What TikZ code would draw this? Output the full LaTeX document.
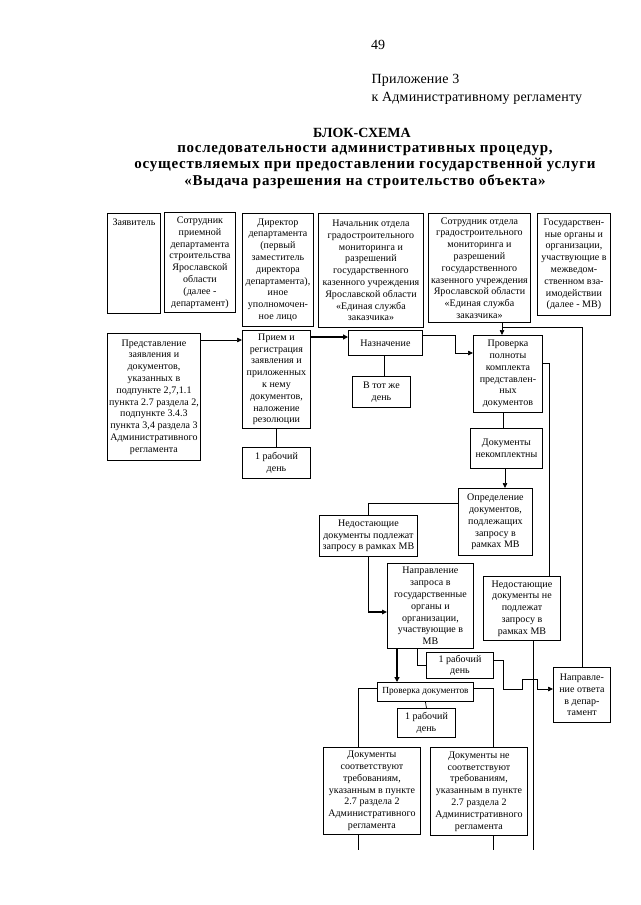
\documentclass[tikz,border=0pt]{standalone}
\usepackage{fontspec}
\setmainfont{Liberation Serif}
\usetikzlibrary{arrows.meta}

\tikzset{
  blk/.style={draw, line width=0.9pt, align=center, anchor=north west, inner xsep=0.5pt, inner ysep=1.5pt,
    font=\fontsize{10}{11.8}\selectfont\addfontfeatures{LetterSpace=0.5}},
  con/.style={line width=0.7pt},
  arr/.style={con, -{Triangle[length=5pt,width=4.5pt]}},
  tarr/.style={line width=1.8pt, -{Triangle[length=5pt,width=5pt]}},
}

\begin{document}
\begin{tikzpicture}[x=1pt,y=-1pt]
\useasboundingbox (0,0) rectangle (640,905);

% page header and title
\node[font=\fontsize{14}{16}\selectfont] (pg) at (378,45) {49};
\node[anchor=west, align=left, font=\fontsize{14}{18}\selectfont\addfontfeatures{LetterSpace=1.5}] (pril) at (368,89)
  {Приложение 3\\к Административному регламенту};
\node[font=\bfseries\fontsize{14}{16.7}\selectfont] (title) at (362,133) {БЛОК-СХЕМА};
\node[align=center, font=\bfseries\fontsize{15}{16.7}\selectfont\addfontfeatures{LetterSpace=5}] (subtitle) at (365,167)
  {последовательности административных процедур,\\осуществляемых при предоставлении государственной услуги\\«Выдача разрешения на строительство объекта»};

% participants
\node[blk, minimum width=53, minimum height=100, text height=10pt, text depth=85pt] (zay) at (107,213) {Заявитель};
\node[blk, minimum width=71, minimum height=100] (sotr) at (164,212)
  {Сотрудник\\приемной\\департамента\\строительства\\Ярославской\\области\\(далее -\\департамент)};
\node[blk, minimum width=71, minimum height=113] (dir) at (242,213)
  {Директор\\департамента\\(первый\\заместитель\\директора\\департамента),\\иное\\уполномочен-\\ное лицо};
\node[blk, minimum width=105, minimum height=114] (nach) at (318,213)
  {Начальник отдела\\градостроительного\\мониторинга и\\разрешений\\государственного\\казенного учреждения\\Ярославской области\\«Единая служба\\заказчика»};
\node[blk, minimum width=102, minimum height=109] (sotrO) at (428,213)
  {Сотрудник отдела\\градостроительного\\мониторинга и\\разрешений\\государственного\\казенного учреждения\\Ярославской области\\«Единая служба\\заказчика»};
\node[blk, minimum width=73, minimum height=102] (gos) at (537,213)
  {Государствен-\\ные органы и\\организации,\\участвующие в\\межведом-\\ственном вза-\\имодействии\\(далее - МВ)};

% procedures
\node[blk, minimum width=93, minimum height=127] (pred) at (107,333)
  {Представление\\заявления и\\документов,\\указанных в\\подпункте 2,7,1.1\\пункта 2.7 раздела 2,\\подпункте 3.4.3\\пункта 3,4 раздела 3\\Административного\\регламента};
\node[blk, minimum width=68, minimum height=98] (priem) at (242,330)
  {Прием и\\регистрация\\заявления и\\приложенных\\к нему\\документов,\\наложение\\резолюции};
\node[blk, minimum width=68, minimum height=31] (den1) at (242,447) {1 рабочий\\день};
\node[blk, minimum width=74, minimum height=25] (nazn) at (348,330) {Назначение};
\node[blk, minimum width=58, minimum height=31] (totzhe) at (352,376) {В тот же\\день};
\node[blk, minimum width=69, minimum height=77] (prov) at (473,335)
  {Проверка\\полноты\\комплекта\\представлен-\\ных\\документов};
\node[blk, minimum width=72, minimum height=40] (nekompl) at (470,428) {Документы\\некомплектны};
\node[blk, minimum width=74, minimum height=67] (opred) at (458,488)
  {Определение\\документов,\\подлежащих\\запросу в\\рамках МВ};
\node[blk, minimum width=98, minimum height=41] (nedP) at (319,515)
  {Недостающие\\документы подлежат\\запросу в рамках МВ};
\node[blk, minimum width=86, minimum height=85] (napr) at (387,563)
  {Направление\\запроса в\\государственные\\органы и\\организации,\\участвующие в\\МВ};
\node[blk, minimum width=77, minimum height=64] (nedNP) at (483,576)
  {Недостающие\\документы не\\подлежат\\запросу в\\рамках МВ};
\node[blk, minimum width=67, minimum height=26] (den2) at (426,652) {1 рабочий\\день};
\node[blk, minimum width=57, minimum height=55] (otvet) at (553,667)
  {Направле-\\ние ответа\\в депар-\\тамент};
\node[blk, minimum width=96, minimum height=19, font=\fontsize{9.3}{11}\selectfont] (provD) at (377,682) {Проверка документов};
\node[blk, minimum width=58, minimum height=29] (den3) at (397,708) {1 рабочий\\день};
\node[blk, minimum width=97, minimum height=87] (sootv) at (323,747)
  {Документы\\соответствуют\\требованиям,\\указанным в пункте\\2.7 раздела 2\\Административного\\регламента};
\node[blk, minimum width=97, minimum height=88] (nesootv) at (430,747)
  {Документы не\\соответствуют\\требованиям,\\указанным в пункте\\2.7 раздела 2\\Административного\\регламента};

% connectors
\coordinate (jt) at (502,327);
\coordinate (e1) at (358,850);
\coordinate (e2) at (493,850);
\coordinate (e3) at (533,850);

\draw[arr] (pred.east |- 0,340) -- (priem.west |- 0,340);
\draw[tarr] (priem.east |- 0,337) -- (nazn.west |- 0,337);
\draw[con] (priem.south) -- (den1.north);
\draw[con] (nazn.south -| 384,0) -- (totzhe.north -| 384,0);
\draw[arr] (nazn.east |- 0,335) -- (455,335) |- (prov.west |- 0,353);
\draw[arr] (sotrO.south -| jt) -- (prov.north -| jt);
\draw[con] (jt) -| (otvet.north);
\draw[con] (prov.east |- 0,363) -| (nedNP.north -| 549,0);
\draw[con] (prov.south -| 503,0) -- (nekompl.north -| 503,0);
\draw[arr] (nekompl.south -| 505,0) -- (opred.north -| 505,0);
\draw[con] (opred.west |- 0,503) -| (nedP.north);
\draw[arr, line width=1.1pt] (nedP.south) |- (napr.west |- 0,612);
\draw[tarr] (napr.south -| 397,0) -- (provD.north -| 397,0);
\draw[con] (napr.south -| 417,0) |- (den2.west);
\draw[arr] (den2.east |- 0,660) -- (503,660) -- (503,689) -- (522,689) -- (522,679)
  -- (537,679) -- (537,689) -- (otvet.west |- 0,689);
\draw[con] (provD.south) -- (den3.north);
\draw[con] (provD.west |- 0,688) -| (sootv.north -| e1);
\draw[con] (provD.east |- 0,688) -| (nesootv.north -| e2);
\draw[con] (sootv.south -| e1) -- (e1);
\draw[con] (nesootv.south -| e2) -- (e2);
\draw[con] (nedNP.south -| e3) -- (e3);
\end{tikzpicture}
\end{document}
